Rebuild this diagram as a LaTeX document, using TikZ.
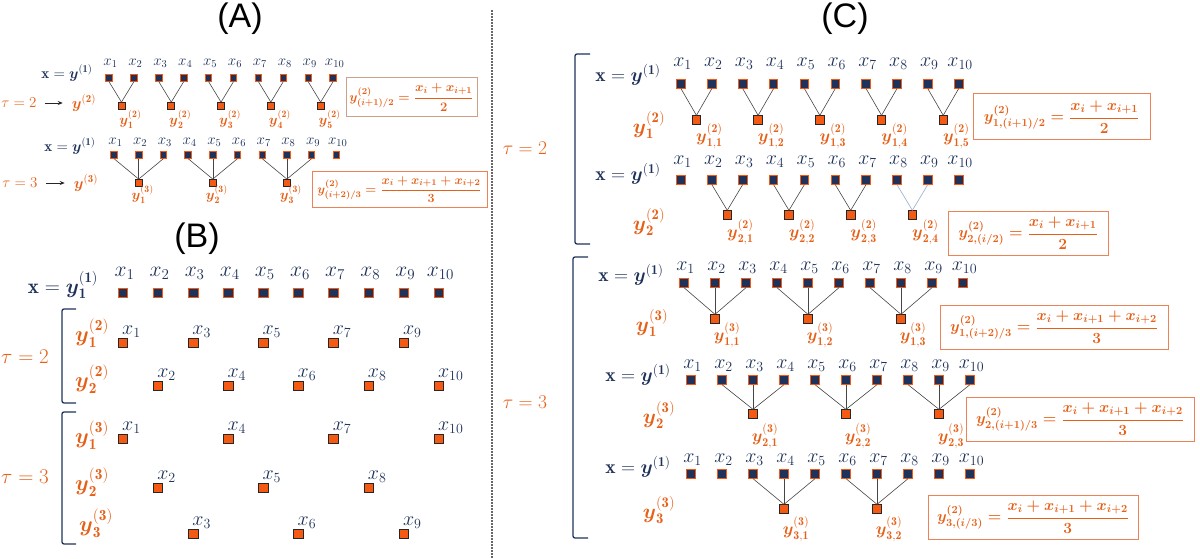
\RequirePackage{fix-cm}
\documentclass[tikz,border=0pt]{standalone}
\usepackage{amsmath}
\usepackage{fontspec}
\newfontfamily\titlefont{Liberation Sans}
\usetikzlibrary{arrows.meta}
\definecolor{navy}{RGB}{31,50,90}
\definecolor{orng}{RGB}{230,96,24}
\definecolor{sqor}{RGB}{245,90,20}
\definecolor{boxor}{RGB}{236,130,85}
\definecolor{boxtan}{RGB}{205,160,135}
\definecolor{lnk}{RGB}{70,70,70}
\definecolor{lblue}{RGB}{150,170,210}
\newcommand{\fsz}[1]{\fontsize{#1}{#1}\selectfont}
\newcommand{\bsy}{\boldsymbol{y}}
\tikzset{
 xsq/.style={draw=sqor, fill=navy, line width=0.8pt, inner sep=0pt},
 ysq/.style={draw=black!85, fill=sqor, line width=0.8pt, inner sep=0pt},
 link/.style={draw=lnk, line width=0.6pt},
 nvt/.style={text=navy, inner sep=0pt},
 ogt/.style={text=orng, inner sep=0pt},
 ttl/.style={text=black, inner sep=0pt, font=\titlefont\fsz{34}},
 brk/.style={draw=navy, line width=1.3pt, rounded corners=2pt},
 fbox/.style={draw=boxor, line width=1pt, inner sep=0pt, text=orng},
 divider/.style={draw=black!60, line width=1.1pt, dash pattern=on 2pt off 1pt},
 arr/.style={-{Stealth[length=5pt,width=4pt]}, draw=black!85, line width=0.8pt},
}
\begin{document}
\begin{tikzpicture}[x=1pt,y=-1pt]
\useasboundingbox (0,0) rectangle (1200,559);
\node[ttl] (tA) at (240,19) {(A)};
\node[ttl] (tB) at (197,239) {(B)};
\node[ttl] (tC) at (845,19) {(C)};
\coordinate (d1) at (492,10);
\coordinate (d2) at (492,559);
\draw[divider] (d1) -- (d2);
% ---------------- Panel A row 1
\node[nvt, font=\fsz{15}] (Axa) at (67,73) {\(\mathbf{x}=\bsy^{(\mathbf{1})}\)};
\node[ogt, font=\fsz{15}] (Ata) at (19,103) {\(\tau=2\)};
\node[ogt, font=\fsz{15.5}] (Aya) at (84,103) {\(\bsy^{(\mathbf{2})}\)};
\draw[arr, shorten <=8pt, shorten >=9pt] (Ata) -- (Aya);
\foreach \i in {1,...,10}{
 \pgfmathsetmacro\X{109+24.9*(\i-1)}
 \node[xsq, minimum size=6.5pt] (Aa\i) at (\X,78) {};
 \node[nvt, font=\fsz{15}] (Aal\i) at (\X+1.5,63) {\(x_{\i}\)};
}
\foreach \k in {1,...,5}{
 \pgfmathtruncatemacro\a{2*\k-1}
 \pgfmathtruncatemacro\b{2*\k}
 \pgfmathsetmacro\X{109+24.9*(2*\k-1.5)}
 \node[ysq, minimum size=7pt] (Ab\k) at (\X,106) {};
 \draw[link] (Aa\a.south) -- (Ab\k.north);
 \draw[link] (Aa\b.south) -- (Ab\k.north);
 \node[ogt, font=\fsz{14}] (Abl\k) at (\X+9,119) {\(\bsy^{(\mathbf{2})}_{\mathbf{\k}}\)};
}
\node[fbox, draw=boxtan, minimum width=131pt, minimum height=39pt, font=\fsz{13}] (AF1) at (411.5,97.5)
 {\(\boldsymbol{y^{(2)}_{(i+1)/2}=\dfrac{x_i+x_{i+1}}{2}}\)};
% ---------------- Panel A row 2
\node[nvt, font=\fsz{15}] (Axb) at (70,146) {\(\mathbf{x}=\bsy^{(\mathbf{1})}\)};
\node[ogt, font=\fsz{15}] (Atb) at (20,183) {\(\tau=3\)};
\node[ogt, font=\fsz{15.5}] (Ayb) at (86,183) {\(\bsy^{(\mathbf{3})}\)};
\draw[arr, shorten <=8pt, shorten >=9pt] (Atb) -- (Ayb);
\foreach \i in {1,...,10}{
 \pgfmathsetmacro\X{114+24.7*(\i-1)}
 \node[xsq, minimum size=6.5pt] (Ac\i) at (\X,155) {};
 \node[nvt, font=\fsz{15}] (Acl\i) at (\X+1.5,142) {\(x_{\i}\)};
}
\foreach \k in {1,2,3}{
 \pgfmathtruncatemacro\a{3*\k-2}
 \pgfmathtruncatemacro\b{3*\k-1}
 \pgfmathtruncatemacro\c{3*\k}
 \pgfmathsetmacro\X{114+24.7*(3*\k-2)}
 \node[ysq, minimum size=7pt] (Ad\k) at (\X,183) {};
 \draw[link] (Ac\a.south) -- (Ad\k.north);
 \draw[link] (Ac\b.south) -- (Ad\k.north);
 \draw[link] (Ac\c.south) -- (Ad\k.north);
 \node[ogt, font=\fsz{14}] (Adl\k) at (\X+4,194) {\(\bsy^{(\mathbf{3})}_{\mathbf{\k}}\)};
}
\node[fbox, minimum width=175pt, minimum height=35pt, font=\fsz{12.5}] (AF2) at (399.5,189.5)
 {\(\boldsymbol{y^{(2)}_{(i+2)/3}=\dfrac{x_i+x_{i+1}+x_{i+2}}{3}}\)};
% ---------------- Panel B
\node[nvt, font=\fsz{21}] (Bx) at (63,285) {\(\mathbf{x}=\bsy^{(\mathbf{1})}_{\mathbf{1}}\)};
\foreach \i in {1,...,10}{
 \pgfmathsetmacro\X{123+35.1*(\i-1)}
 \node[xsq, minimum size=9.5pt] (Ba\i) at (\X,293) {};
 \node[nvt, font=\fsz{21.5}] (Bal\i) at (\X+1.5,273) {\(x_{\i}\)};
}
\node[ogt, font=\fsz{21}] (Bt2) at (25,357) {\(\tau=2\)};
\node[ogt, font=\fsz{21}] (Bt3) at (25,477) {\(\tau=3\)};
\draw[brk] (76,309) -- (62,309) -- (62,403) -- (76,403);
\draw[brk] (76,412) -- (62,412) -- (62,544) -- (76,544);
\node[ogt, font=\fsz{22}] (Br1) at (92,333) {\(\bsy^{(\mathbf{2})}_{\mathbf{1}}\)};
\foreach \i in {1,3,5,7,9}{
 \pgfmathsetmacro\X{123+35.1*(\i-1)}
 \node[ysq, minimum size=9.5pt] (Bb\i) at (\X,343) {};
 \node[nvt, font=\fsz{20}, anchor=south west] (Bbl\i) at (\X-1,338) {\(x_{\i}\)};
}
\node[ogt, font=\fsz{22}] (Br2) at (92,379) {\(\bsy^{(\mathbf{2})}_{\mathbf{2}}\)};
\foreach \i in {2,4,6,8,10}{
 \pgfmathsetmacro\X{123+35.1*(\i-1)}
 \node[ysq, minimum size=9.5pt] (Bc\i) at (\X,386) {};
 \node[nvt, font=\fsz{20}, anchor=south west] (Bcl\i) at (\X-1,381) {\(x_{\i}\)};
}
\node[ogt, font=\fsz{22}] (Br3) at (92,435) {\(\bsy^{(\mathbf{3})}_{\mathbf{1}}\)};
\foreach \i in {1,4,7,10}{
 \pgfmathsetmacro\X{123+35.1*(\i-1)}
 \node[ysq, minimum size=9.5pt] (Bd\i) at (\X,439) {};
 \node[nvt, font=\fsz{20}, anchor=south west] (Bdl\i) at (\X-1,434) {\(x_{\i}\)};
}
\node[ogt, font=\fsz{22}] (Br4) at (92,482) {\(\bsy^{(\mathbf{3})}_{\mathbf{2}}\)};
\foreach \i in {2,5,8}{
 \pgfmathsetmacro\X{123+35.1*(\i-1)}
 \node[ysq, minimum size=9.5pt] (Be\i) at (\X,488) {};
 \node[nvt, font=\fsz{20}, anchor=south west] (Bel\i) at (\X-1,483) {\(x_{\i}\)};
}
\node[ogt, font=\fsz{22}] (Br5) at (96,523) {\(\bsy^{(\mathbf{3})}_{\mathbf{3}}\)};
\foreach \i in {3,6,9}{
 \pgfmathsetmacro\X{123+35.1*(\i-1)}
 \node[ysq, minimum size=9.5pt] (Bf\i) at (\X,534) {};
 \node[nvt, font=\fsz{20}, anchor=south west] (Bfl\i) at (\X-1,529) {\(x_{\i}\)};
}
% ---------------- Panel C
\node[ogt, font=\fsz{19.5}] (Ct2) at (525,148) {\(\tau=2\)};
\node[ogt, font=\fsz{19.5}] (Ct3) at (525,402) {\(\tau=3\)};
\draw[brk] (590,54) -- (575,54) -- (575,244) -- (590,244);
\draw[brk] (588,257) -- (573,257) -- (573,538) -- (588,538);
% row 1
\node[nvt, font=\fsz{19.5}] (C1x) at (628,75) {\(\mathbf{x}=\bsy^{(\mathbf{1})}\)};
\node[ogt, font=\fsz{21}] (C1y) at (649,125) {\(\bsy^{(\mathbf{2})}_{\mathbf{1}}\)};
\foreach \i in {1,...,10}{
 \pgfmathsetmacro\X{681+30.85*(\i-1)}
 \node[xsq, minimum size=8.5pt] (Ca\i) at (\X,84) {};
 \node[nvt, font=\fsz{20}] (Cal\i) at (\X+1.5,64) {\(x_{\i}\)};
}
\foreach \k in {1,...,5}{
 \pgfmathtruncatemacro\a{2*\k-1}
 \pgfmathtruncatemacro\b{2*\k}
 \pgfmathsetmacro\X{681+30.85*(2*\k-1.5)}
 \node[ysq, minimum size=8.5pt] (Cb\k) at (\X,120) {};
 \draw[link] (Ca\a.south) -- (Cb\k.north);
 \draw[link] (Ca\b.south) -- (Cb\k.north);
 \node[ogt, font=\fsz{17}] (Cbl\k) at (\X+13,136) {\(\bsy^{(\mathbf{2})}_{\mathbf{1,\k}}\)};
}
\node[fbox, minimum width=177pt, minimum height=46pt, font=\fsz{15.5}] (CF1) at (1061.5,117)
 {\(\boldsymbol{y^{(2)}_{1,(i+1)/2}=\dfrac{x_i+x_{i+1}}{2}}\)};
% row 2
\node[nvt, font=\fsz{19.5}] (C2x) at (628,174) {\(\mathbf{x}=\bsy^{(\mathbf{1})}\)};
\node[ogt, font=\fsz{21}] (C2y) at (649,222) {\(\bsy^{(\mathbf{2})}_{\mathbf{2}}\)};
\foreach \i in {1,...,10}{
 \pgfmathsetmacro\X{681+30.85*(\i-1)}
 \node[xsq, minimum size=8.5pt] (Cc\i) at (\X,180) {};
 \node[nvt, font=\fsz{20}] (Ccl\i) at (\X+1.5,162) {\(x_{\i}\)};
}
\foreach \k/\lc in {1/lnk,2/lnk,3/lnk,4/lblue}{
 \pgfmathtruncatemacro\a{2*\k}
 \pgfmathtruncatemacro\b{2*\k+1}
 \pgfmathsetmacro\X{681+30.85*(2*\k-0.5)}
 \node[ysq, minimum size=8.5pt] (Cd\k) at (\X,215) {};
 \draw[link, draw=\lc] (Cc\a.south) -- (Cd\k.north);
 \draw[link, draw=\lc] (Cc\b.south) -- (Cd\k.north);
 \node[ogt, font=\fsz{17}] (Cdl\k) at (\X+13,232) {\(\bsy^{(\mathbf{2})}_{\mathbf{2,\k}}\)};
}
\node[fbox, minimum width=160pt, minimum height=44pt, font=\fsz{15.5}] (CF2) at (1028,233)
 {\(\boldsymbol{y^{(2)}_{2,(i/2)}=\dfrac{x_i+x_{i+1}}{2}}\)};
% row 3
\node[nvt, font=\fsz{19.5}] (C3x) at (631,275) {\(\mathbf{x}=\bsy^{(\mathbf{1})}\)};
\node[ogt, font=\fsz{21}] (C3y) at (652,323) {\(\bsy^{(\mathbf{3})}_{\mathbf{1}}\)};
\foreach \i in {1,...,10}{
 \pgfmathsetmacro\X{684+31*(\i-1)}
 \node[xsq, minimum size=8.5pt] (Ce\i) at (\X,283) {};
 \node[nvt, font=\fsz{20}] (Cel\i) at (\X+1.5,268) {\(x_{\i}\)};
}
\foreach \k in {1,2,3}{
 \pgfmathtruncatemacro\a{3*\k-2}
 \pgfmathtruncatemacro\b{3*\k-1}
 \pgfmathtruncatemacro\c{3*\k}
 \pgfmathsetmacro\X{684+31*(3*\k-2)}
 \node[ysq, minimum size=8.5pt] (Cf\k) at (\X,319) {};
 \draw[link] (Ce\a.south) -- (Cf\k.north);
 \draw[link] (Ce\b.south) -- (Cf\k.north);
 \draw[link] (Ce\c.south) -- (Cf\k.north);
 \node[ogt, font=\fsz{17}] (Cfl\k) at (\X+12,335) {\(\bsy^{(\mathbf{3})}_{\mathbf{1,\k}}\)};
}
\node[fbox, minimum width=228pt, minimum height=44pt, font=\fsz{15.5}] (CF3) at (1054,327)
 {\(\boldsymbol{y^{(2)}_{1,(i+2)/3}=\dfrac{x_i+x_{i+1}+x_{i+2}}{3}}\)};
% row 4
\node[nvt, font=\fsz{19.5}] (C4x) at (638,375) {\(\mathbf{x}=\bsy^{(\mathbf{1})}\)};
\node[ogt, font=\fsz{21}] (C4y) at (659,415) {\(\bsy^{(\mathbf{3})}_{\mathbf{2}}\)};
\foreach \i in {1,...,10}{
 \pgfmathsetmacro\X{691+31*(\i-1)}
 \node[xsq, minimum size=8.5pt] (Cg\i) at (\X,380) {};
 \node[nvt, font=\fsz{20}] (Cgl\i) at (\X+1.5,366) {\(x_{\i}\)};
}
\foreach \k in {1,2,3}{
 \pgfmathtruncatemacro\a{3*\k-1}
 \pgfmathtruncatemacro\b{3*\k}
 \pgfmathtruncatemacro\c{3*\k+1}
 \pgfmathsetmacro\X{691+31*(3*\k-1)}
 \node[ysq, minimum size=8.5pt] (Ch\k) at (\X,414) {};
 \draw[link] (Cg\a.south) -- (Ch\k.north);
 \draw[link] (Cg\b.south) -- (Ch\k.north);
 \draw[link] (Cg\c.south) -- (Ch\k.north);
 \node[ogt, font=\fsz{17}] (Chl\k) at (\X+12,436) {\(\bsy^{(\mathbf{3})}_{\mathbf{2,\k}}\)};
}
\node[fbox, minimum width=228pt, minimum height=44pt, font=\fsz{15.5}] (CF4) at (1080,419)
 {\(\boldsymbol{y^{(2)}_{2,(i+1)/3}=\dfrac{x_i+x_{i+1}+x_{i+2}}{3}}\)};
% row 5
\node[nvt, font=\fsz{19.5}] (C5x) at (638,467) {\(\mathbf{x}=\bsy^{(\mathbf{1})}\)};
\node[ogt, font=\fsz{21}] (C5y) at (659,510) {\(\bsy^{(\mathbf{3})}_{\mathbf{3}}\)};
\foreach \i in {1,...,10}{
 \pgfmathsetmacro\X{691+31*(\i-1)}
 \node[xsq, minimum size=8.5pt] (Ci\i) at (\X,474) {};
 \node[nvt, font=\fsz{20}] (Cil\i) at (\X+1.5,460) {\(x_{\i}\)};
}
\foreach \k in {1,2}{
 \pgfmathtruncatemacro\a{3*\k}
 \pgfmathtruncatemacro\b{3*\k+1}
 \pgfmathtruncatemacro\c{3*\k+2}
 \pgfmathsetmacro\X{691+31*(3*\k)}
 \node[ysq, minimum size=8.5pt] (Cj\k) at (\X,509) {};
 \draw[link] (Ci\a.south) -- (Cj\k.north);
 \draw[link] (Ci\b.south) -- (Cj\k.north);
 \draw[link] (Ci\c.south) -- (Cj\k.north);
 \node[ogt, font=\fsz{17}] (Cjl\k) at (\X+12,529) {\(\bsy^{(\mathbf{3})}_{\mathbf{3,\k}}\)};
}
\node[fbox, minimum width=210pt, minimum height=44pt, font=\fsz{15.5}] (CF5) at (1033,517)
 {\(\boldsymbol{y^{(2)}_{3,(i/3)}=\dfrac{x_i+x_{i+1}+x_{i+2}}{3}}\)};
\end{tikzpicture}
\end{document}
